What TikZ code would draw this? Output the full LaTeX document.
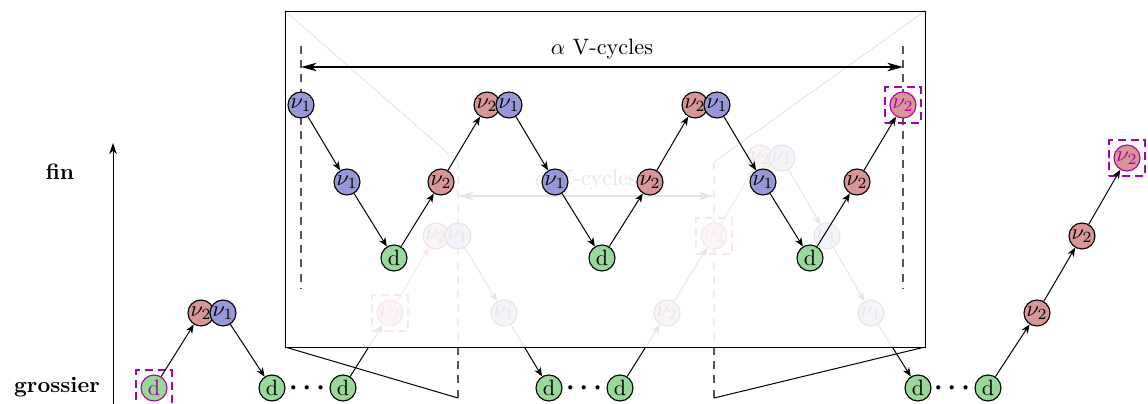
\documentclass[tikz,border=0pt]{standalone}
\usetikzlibrary{arrows.meta}
\definecolor{nuonecol}{RGB}{152,152,216}
\definecolor{nutwocol}{RGB}{216,150,150}
\definecolor{dcol}{RGB}{152,216,152}
\definecolor{magcol}{RGB}{170,0,170}
\definecolor{dashcol}{RGB}{85,85,85}
\tikzset{
  base/.style={circle, draw, line width=0.5pt, minimum size=11.7pt, inner sep=0pt},
  nuone/.style={base, fill=nuonecol},
  nutwo/.style={base, fill=nutwocol},
  dnode/.style={base, fill=dcol},
  ends/.style={draw=magcol, text=magcol, append after command={(\tikzlastnode.center) node[rectangle, draw=magcol, line width=0.95pt, dash pattern=on 3.6pt off 2.2pt, minimum size=16pt, inner sep=0pt] {}}},
  arr/.style={-{Stealth[length=4pt,width=3.2pt,inset=1.2pt]}, line width=0.45pt},
  big/.style={{Stealth[length=7pt,width=3.8pt,inset=2pt]}-{Stealth[length=7pt,width=3.8pt,inset=2pt]}, line width=0.5pt},
  vdash/.style={draw=dashcol, line width=0.6pt, dash pattern=on 3.6pt off 2.8pt},
  dotsnode/.style={font=\boldmath\large, inner sep=0pt},
  framel/.style={line width=0.45pt},
}
\begin{document}
\begin{tikzpicture}[x=0.45pt, y=-0.45pt]
\useasboundingbox (0,0) rectangle (1148,404);
% axis
\node[font=\bfseries] (fin) at (60,172) {fin};
\node[font=\bfseries] (gros) at (57,387) {grossier};
\coordinate (axb) at (113,410);
\coordinate (axt) at (113,143);
\draw[-{Stealth[length=5pt,width=3.4pt,inset=1.5pt]}, line width=0.45pt] (axb) -- (axt);

% underlying full diagram
\coordinate (sTL) at (458,162); \coordinate (sBL) at (458,398);
\coordinate (sTR) at (714,162); \coordinate (sBR) at (714,398);
\draw[vdash] (sTL) -- (sBL);
\draw[vdash] (sTR) -- (sBR);
\coordinate (fa) at (458,196); \coordinate (fb) at (714,196);
\draw[big] (fa) -- (fb);
\node (ftext) at (586,180) {$\alpha$ V-cycles};

\node[dnode, ends] (g0) at (154,388) {d};
\node[nutwo] (g1a) at (201,313) {$\nu_2$};
\node[nuone] (g1b) at (223,313) {$\nu_1$};
\node[dnode] (g2) at (272,388) {d};
\node[dotsnode] (k1) at (307,388) {$\cdots$};
\node[dnode] (g3) at (343,388) {d};
\node[nutwo, ends] (g4) at (390,313) {$\nu_2$};
\node[nutwo] (g5a) at (436,236) {$\nu_2$};
\node[nuone] (g5b) at (458,236) {$\nu_1$};
\node[nuone] (g6) at (504,313) {$\nu_1$};
\node[dnode] (g7) at (549,388) {d};
\node[dotsnode] (k2) at (584,388) {$\cdots$};
\node[dnode] (g8) at (620,388) {d};
\node[nutwo] (g9) at (667,313) {$\nu_2$};
\node[nutwo, ends] (g10) at (714,236) {$\nu_2$};
\node[nutwo] (g11a) at (760,158) {$\nu_2$};
\node[nuone] (g11b) at (782,158) {$\nu_1$};
\node[nuone] (g12) at (827,236) {$\nu_1$};
\node[nuone] (g13) at (871,313) {$\nu_1$};
\node[dnode] (g14) at (918,388) {d};
\node[dotsnode] (k3) at (952,388) {$\cdots$};
\node[dnode] (g15) at (988,388) {d};
\node[nutwo] (g16) at (1037,313) {$\nu_2$};
\node[nutwo] (g17) at (1082,236) {$\nu_2$};
\node[nutwo, ends] (g18) at (1127,158) {$\nu_2$};

\draw[arr] (g0) -- (g1a);
\draw[arr] (g1b) -- (g2);
\draw[arr] (g3) -- (g4);
\draw[arr, red] (g4) -- (g5a);
\draw[arr] (g5b) -- (g6);
\draw[arr] (g6) -- (g7);
\draw[arr] (g8) -- (g9);
\draw[arr] (g9) -- (g10);
\draw[arr, red] (g10) -- (g11a);
\draw[arr] (g11b) -- (g12);
\draw[arr] (g12) -- (g13);
\draw[arr] (g13) -- (g14);
\draw[arr] (g15) -- (g16);
\draw[arr] (g16) -- (g17);
\draw[arr] (g17) -- (g18);

% zoom frame
\coordinate (bTL) at (285,11); \coordinate (bTR) at (925,11);
\coordinate (bBL) at (285,347); \coordinate (bBR) at (925,347);
\draw[framel] (bTL) -- (sTL) (bTR) -- (sTR) (bBL) -- (sBL) (bBR) -- (sBR);
\fill[white, fill opacity=0.9] (bTL) rectangle (bBR);
\draw[framel] (bTL) rectangle (bBR);

% inner diagram
\coordinate (iLt) at (301,46); \coordinate (iLb) at (301,288);
\coordinate (iRt) at (903,46); \coordinate (iRb) at (903,288);
\draw[vdash] (iLt) -- (iLb);
\draw[vdash] (iRt) -- (iRb);
\coordinate (ia) at (301,67); \coordinate (ib) at (903,67);
\draw[big] (ia) -- (ib);
\node (itext) at (602,49) {$\alpha$ V-cycles};

\node[nuone] (i1) at (301,105) {$\nu_1$};
\node[nuone] (i2) at (347,182) {$\nu_1$};
\node[dnode] (i3) at (394,258) {d};
\node[nutwo] (i4) at (441,182) {$\nu_2$};
\node[nutwo] (i5a) at (487,105) {$\nu_2$};
\node[nuone] (i5b) at (509,105) {$\nu_1$};
\node[nuone] (i6) at (555,182) {$\nu_1$};
\node[dnode] (i7) at (602,258) {d};
\node[nutwo] (i8) at (650,182) {$\nu_2$};
\node[nutwo] (i9a) at (695,105) {$\nu_2$};
\node[nuone] (i9b) at (717,105) {$\nu_1$};
\node[nuone] (i10) at (763,182) {$\nu_1$};
\node[dnode] (i11) at (810,258) {d};
\node[nutwo] (i12) at (857,182) {$\nu_2$};
\node[nutwo, ends] (i13) at (903,105) {$\nu_2$};

\draw[arr] (i1) -- (i2);
\draw[arr] (i2) -- (i3);
\draw[arr] (i3) -- (i4);
\draw[arr] (i4) -- (i5a);
\draw[arr] (i5b) -- (i6);
\draw[arr] (i6) -- (i7);
\draw[arr] (i7) -- (i8);
\draw[arr] (i8) -- (i9a);
\draw[arr] (i9b) -- (i10);
\draw[arr] (i10) -- (i11);
\draw[arr] (i11) -- (i12);
\draw[arr] (i12) -- (i13);
\end{tikzpicture}
\end{document}
